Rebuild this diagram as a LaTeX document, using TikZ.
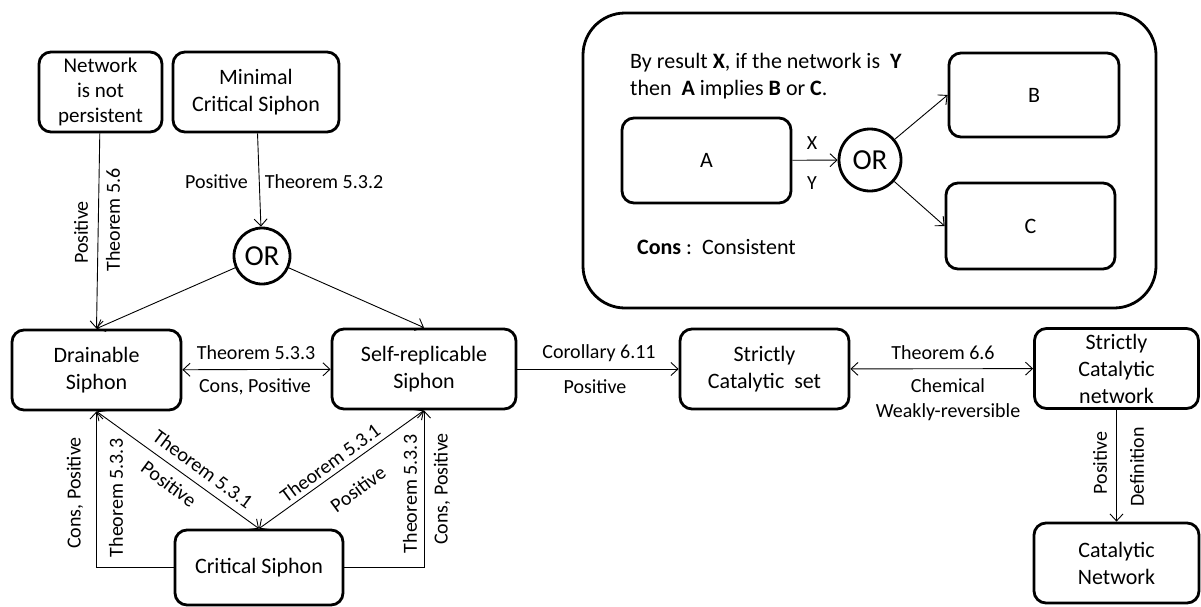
\documentclass[tikz,border=0pt]{standalone}
\usepackage{fontspec}
\setmainfont{Carlito}
\usetikzlibrary{arrows.meta}

\begin{document}
\begin{tikzpicture}[x=1pt,y=-1pt,
    >={Straight Barb[length=7pt,width=13pt]},
    box/.style={draw, line width=2.8pt, rounded corners=12pt, inner sep=0pt,
      align=center, minimum height=80pt, font=\fontsize{22}{27}\selectfont},
    orgate/.style={draw, circle, line width=2.8pt, inner sep=0pt,
      minimum size=56pt, font=\fontsize{29}{30}\selectfont},
    lbl/.style={inner sep=0pt, align=center, font=\fontsize{20}{25}\selectfont},
    link/.style={line width=0.9pt}]
  \useasboundingbox (0,0) rectangle (1201,606);

  % legend
  \draw[line width=2.8pt, rounded corners=42pt] (583,13) rectangle (1156,308);
  \node[lbl, align=left, anchor=west, font=\fontsize{22}{27}\selectfont] (rule) at (630,76.5)
    {By result \textbf{X}, if the network is\ \ \textbf{Y}\\then\ \ \textbf{A} implies \textbf{B} or \textbf{C}.};
  \node[box, minimum width=169pt, minimum height=85pt] (a) at (706.5,160.5) {A};
  \node[orgate, minimum size=62pt] (or2) at (870,160) {OR};
  \node[box, minimum width=170pt, minimum height=84pt] (b) at (1034,95) {B};
  \node[box, minimum width=169pt, minimum height=86pt] (c) at (1030.5,226) {C};
  \node[lbl, anchor=west, font=\fontsize{22}{27}\selectfont] (cons) at (637,247) {\textbf{Cons} :\ \ Consistent};
  \draw[link, ->] (a) -- (or2);
  \draw[link, ->] (or2) -- (b.west);
  \draw[link, ->] (or2) -- (c.west);
  \node[lbl] (lx) at (812,143) {X};
  \node[lbl] (ly) at (812,183) {Y};

  % main diagram
  \node[box, minimum width=123pt, font=\fontsize{21}{25}\selectfont] (notpers) at (100.5,92) {Network\\is not\\persistent};
  \node[box, minimum width=166pt] (mincrit) at (256,92) {Minimal\\Critical Siphon};
  \node[orgate] (or1) at (262,256) {OR};
  \node[box, minimum width=169pt] (drain) at (96.5,370) {Drainable\\Siphon};
  \node[box, minimum width=184pt] (selfrep) at (424,369) {Self-replicable\\Siphon};
  \node[box, minimum width=168pt, minimum height=75pt] (crit) at (259,567.5) {Critical Siphon};
  \node[box, minimum width=169pt] (scset) at (764.5,369) {Strictly\\Catalytic\ \ set};
  \node[box, minimum width=164pt] (scnet) at (1116.5,368.5) {Strictly\\Catalytic\\network};
  \node[box, minimum width=165pt] (catnet) at (1116.5,563) {Catalytic\\Network};

  \draw[link, ->] (notpers) -- (drain.north);
  \node[lbl, rotate=90] (l1) at (81,232.5) {Positive};
  \node[lbl, rotate=90] (l2) at (113,220) {Theorem 5.6};

  \draw[link, ->] (mincrit) -- (or1);
  \node[lbl] (l3) at (216.5,182) {Positive};
  \node[lbl] (l4) at (324,182) {Theorem 5.3.2};

  \draw[link, ->] (or1) -- (drain.north);
  \draw[link, ->] (or1) -- (selfrep.north);

  \draw[link, <->] (drain) -- (selfrep);
  \node[lbl] (l5) at (256,353) {Theorem 5.3.3};
  \node[lbl] (l6) at (255,387) {Cons, Positive};

  \draw[link, ->] (crit.west) -| (drain.south);
  \node[lbl, rotate=90] (l7) at (75,493) {Cons, Positive};
  \node[lbl, rotate=90] (l8) at (116,498) {Theorem 5.3.3};

  \draw[link, ->] (crit.east) -| (selfrep.south);
  \node[lbl, rotate=90] (l9) at (410,494) {Theorem 5.3.3};
  \node[lbl, rotate=90] (l10) at (442,489) {Cons, Positive};

  \draw[link, <->] (drain.south) -- (crit.north);
  \node[lbl, rotate=-36.4] (l11) at (203,469) {Theorem 5.3.1};
  \node[lbl, rotate=-36.4] (l12) at (169,484) {Positive};

  \draw[link, <->] (crit.north) -- (selfrep.south);
  \node[lbl, rotate=36.3] (l13) at (330,463) {Theorem 5.3.1};
  \node[lbl, rotate=36.3] (l14) at (358,489) {Positive};

  \draw[link, ->] (selfrep) -- (scset);
  \node[lbl] (l15) at (599,353) {Corollary 6.11};
  \node[lbl] (l16) at (595,387) {Positive};

  \draw[link, <->] (scset) -- (scnet);
  \node[lbl] (l17) at (943,353) {Theorem 6.6};
  \node[lbl] (l18) at (948,399.5) {Chemical\\Weakly-reversible};

  \draw[link, ->] (scnet) -- (catnet);
  \node[lbl, rotate=90] (l19) at (1100,463) {Positive};
  \node[lbl, rotate=90] (l20) at (1137,467) {Definition};
\end{tikzpicture}
\end{document}
